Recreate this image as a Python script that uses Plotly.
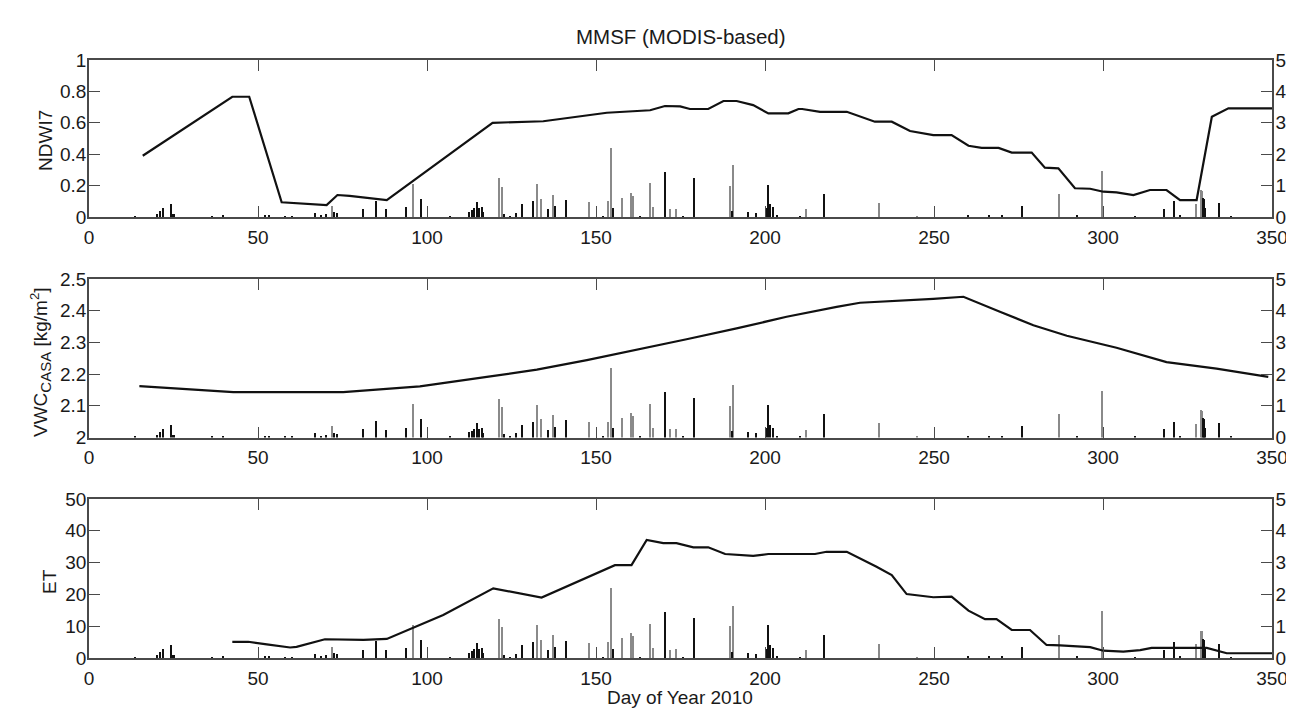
import plotly.graph_objects as go

# ---------------- data ----------------
day_ticks = [0, 50, 100, 150, 200, 250, 300, 350]

ndwi_days = [15.9, 42.4, 47.4, 57.0, 70.3, 73.5, 77.1, 88.1, 119.4, 134.4, 153.2, 161.0, 166.0,
             170.4, 174.9, 177.8, 183.2, 187.7, 191.6, 196.5, 201.0, 206.9, 209.9, 211.0, 216.3,
             224.2, 228.1, 232.5, 237.5, 242.9, 249.8, 255.2, 260.2, 264.1, 269.1, 273.0, 278.9,
             282.8, 286.8, 291.7, 296.2, 300.1, 304.0, 309.0, 313.9, 318.8, 322.8, 327.7, 332.2,
             337.1, 350.0]
ndwi_vals = [0.39, 0.766, 0.766, 0.094, 0.076, 0.14, 0.135, 0.108, 0.60, 0.61, 0.664, 0.671, 0.68,
             0.707, 0.705, 0.688, 0.688, 0.739, 0.739, 0.713, 0.66, 0.66, 0.688, 0.688, 0.67,
             0.67, 0.64, 0.607, 0.607, 0.548, 0.522, 0.522, 0.454, 0.44, 0.44, 0.41, 0.41,
             0.314, 0.31, 0.183, 0.18, 0.161, 0.157, 0.14, 0.172, 0.172, 0.108, 0.108, 0.639,
             0.692, 0.692]

vwc_days = [14.9, 42.7, 75.2, 97.9, 117.7, 132.5, 147.3, 162.0, 176.8, 191.6, 206.4, 221.2,
            228.1, 249.8, 258.7, 269.5, 279.4, 289.3, 304.0, 318.8, 333.6, 348.9]
vwc_vals = [2.162, 2.143, 2.143, 2.161, 2.191, 2.214, 2.244, 2.278, 2.31, 2.344, 2.381, 2.412,
            2.425, 2.437, 2.444, 2.397, 2.354, 2.321, 2.283, 2.238, 2.217, 2.191]

et_days = [42.4, 47.1, 52.6, 59.5, 61.4, 69.8, 81.2, 88.1, 104.8, 119.6, 133.9, 155.6, 160.5,
           165.0, 169.9, 173.8, 178.8, 183.2, 188.2, 196.5, 201.0, 214.8, 218.2, 224.2, 233.0,
           237.5, 241.9, 249.8, 255.2, 260.2, 265.1, 268.5, 273.0, 278.4, 283.3, 287.3, 296.2,
           300.1, 306.0, 311.0, 314.4, 330.7, 336.6, 350.0]
et_vals = [5.1, 5.1, 4.3, 3.3, 3.5, 5.9, 5.7, 6.0, 13.5, 21.9, 19.0, 29.2, 29.2,
           37.1, 36.1, 36.1, 34.8, 34.8, 32.7, 32.1, 32.7, 32.7, 33.4, 33.4, 28.7,
           26.1, 20.1, 19.1, 19.3, 14.9, 12.2, 12.2, 8.8, 8.8, 4.1, 4.0, 3.4,
           2.3, 2.0, 2.5, 3.2, 3.2, 1.5, 1.5]

# precipitation (right axis, 0-50), two overlaid records
rain_a_days = [71.8, 95.9, 121.3, 122.3, 132.5, 133.7, 137.4, 148.0, 153.6, 154.4, 157.6, 160.4,
               160.9, 166.0, 167.0, 171.9, 173.6, 189.8, 190.5, 212.3, 233.7, 245.0, 287.0,
               299.8, 327.5, 328.9, 329.3]
rain_a_vals = [3.6, 10.5, 12.3, 9.7, 10.4, 5.8, 7.1, 4.8, 5.0, 22.0, 6.2, 7.8,
               6.8, 10.7, 3.1, 2.6, 2.7, 10.0, 16.5, 2.4, 4.5, 0.3, 7.3,
               14.7, 4.3, 8.6, 8.4]

rain_b_days = [13.6, 20.0, 21.0, 21.8, 24.4, 25.0, 36.5, 39.7, 52.0, 53.3, 58.0, 60.0, 67.0, 68.5,
               70.0, 72.5, 73.3, 81.2, 84.9, 87.8, 93.7, 98.1, 106.8, 112.4, 113.2, 113.9, 114.9,
               115.5, 116.2, 116.7, 122.8, 124.5, 126.2, 128.0, 131.3, 135.8, 137.8, 141.1, 152.0,
               155.1, 163.0, 170.4, 175.6, 179.1, 190.2, 194.9, 197.2, 200.2, 201.0, 201.6, 202.3,
               203.5, 210.3, 217.5, 260.0, 266.3, 270.2, 275.9, 292.4, 309.5, 318.0, 321.0, 322.7,
               329.5, 329.9, 330.2, 334.4, 338.0]
rain_b_vals = [0.2, 0.8, 1.8, 2.8, 4.0, 0.8, 0.3, 0.4, 0.5, 0.6, 0.2, 0.2, 1.3, 0.6,
               0.8, 1.5, 1.2, 2.6, 5.2, 2.4, 3.1, 5.8, 0.2, 1.6, 2.2, 2.8, 4.7,
               2.8, 3.1, 1.5, 1.0, 0.3, 1.4, 4.0, 5.0, 2.4, 3.4, 5.5, 0.3,
               2.9, 0.2, 14.4, 0.3, 12.5, 1.9, 1.6, 1.4, 2.9, 10.3, 4.0, 3.1,
               0.5, 0.3, 7.3, 0.5, 0.4, 0.4, 3.6, 0.5, 0.3, 2.6, 5.0, 0.5,
               6.0, 5.7, 3.0, 4.5, 0.3]

panels = [
    dict(days=ndwi_days, vals=ndwi_vals, rng=[0, 1], dtick=0.2, label="NDWI7",
         ticktext=["0", "0.2", "0.4", "0.6", "0.8", "1"]),
    dict(days=vwc_days, vals=vwc_vals, rng=[2, 2.5], dtick=0.1,
         label="VWC<sub><span style=\"font-size:15px\">CASA</span></sub> [kg/m<sup>2</sup>]",
         ticktext=["2", "2.1", "2.2", "2.3", "2.4", "2.5"]),
    dict(days=et_days, vals=et_vals, rng=[0, 50], dtick=10, label="ET",
         ticktext=["0", "10", "20", "30", "40", "50"]),
]
rain_ticks = [0, 10, 20, 30, 40, 50]

# ---------------- layout geometry ----------------
# The page body has an 8px margin, so the figure is drawn 8px right/down
# from the window corner; targets below are window pixels.
OFF = 8
PAGE_W, PAGE_H = 1294, 709
PLOT_L, PLOT_R = 89, 1272          # window x of day 0 and day 350
W, H = PAGE_W - OFF, PAGE_H - OFF
L = PLOT_L - OFF
R = W - (PLOT_R - OFF)
panel_px = [(60, 217), (279, 437.5), (499, 658)]  # window top, bottom
ylab_px = [(45, 141), (40, 362), (49, 581)]
FONT = "Liberation Sans, Arial, Helvetica, sans-serif"
AX = "#4a4a4a"
TXT = "#1a1a1a"
TICKSZ = 19

def px_x(x):
    return (x - OFF - L) / (W - L - R)

def px_y(y):
    return 1 - (y - OFF) / H

fig = go.Figure()
layout = dict(
    width=W, height=H,
    margin=dict(l=L, r=R, t=0, b=0, autoexpand=False),
    paper_bgcolor="white", plot_bgcolor="white",
    showlegend=False, barmode="overlay", bargap=0,
    font=dict(family=FONT, size=18, color=TXT),
)
annotations = []

for i, p in enumerate(panels):
    n = i + 1
    xa = "x" if n == 1 else f"x{n}"
    bar_ax = n            # right axis (base)
    line_ax = n + 3       # left axis (overlaying)
    ybar = "y" if bar_ax == 1 else f"y{bar_ax}"
    yline = f"y{line_ax}"
    top, bot = panel_px[i]
    dom = [px_y(bot), px_y(top)]

    fig.add_trace(go.Bar(x=rain_a_days, y=rain_a_vals, width=0.35, xaxis=xa, yaxis=ybar,
                         marker=dict(color="#8a8a8a", line=dict(width=0)), hoverinfo="x+y"))
    fig.add_trace(go.Bar(x=rain_b_days, y=rain_b_vals, width=0.6, xaxis=xa, yaxis=ybar,
                         marker=dict(color="#111111", line=dict(width=0)), hoverinfo="x+y"))
    fig.add_trace(go.Scatter(x=p["days"], y=p["vals"], mode="lines", xaxis=xa, yaxis=yline,
                             line=dict(color="#111111", width=2.2)))

    xkey = "xaxis" if n == 1 else f"xaxis{n}"
    layout[xkey] = dict(
        domain=[0, 1], anchor=ybar, range=[0, 350], tickmode="array", tickvals=day_ticks,
        ticktext=[str(t) for t in day_ticks], ticks="inside", ticklen=11, tickwidth=1.3,
        tickcolor=AX, showline=True, linecolor=AX, linewidth=1.5, mirror="ticks",
        showgrid=False, zeroline=False, tickfont=dict(size=TICKSZ, color=TXT), fixedrange=True,
        ticklabelstandoff=2,
    )
    ybkey = "yaxis" if bar_ax == 1 else f"yaxis{bar_ax}"
    layout[ybkey] = dict(
        domain=dom, anchor=xa, side="right", range=[0, 50], tickmode="array",
        tickvals=rain_ticks, ticktext=[str(t) for t in rain_ticks], ticks="inside",
        ticklen=11, tickwidth=1.3, tickcolor=AX, showline=True, linecolor=AX, linewidth=1.5,
        showgrid=False, zeroline=False, tickfont=dict(size=TICKSZ, color=TXT), fixedrange=True,
        ticklabelstandoff=-2,
    )
    tv = [p["rng"][0] + k * p["dtick"] for k in range(6)]
    layout[f"yaxis{line_ax}"] = dict(
        domain=dom, anchor=xa, overlaying=ybar, side="left", range=p["rng"],
        tickmode="array", tickvals=tv, ticktext=p["ticktext"], ticks="inside", ticklen=11,
        tickwidth=1.3, tickcolor=AX, showline=True, linecolor=AX, linewidth=1.5,
        showgrid=False, zeroline=False, tickfont=dict(size=TICKSZ, color=TXT), fixedrange=True,
        ticklabelstandoff=-3,
    )
    lx, ly = ylab_px[i]
    annotations.append(dict(text=p["label"], xref="paper", yref="paper", x=px_x(lx),
                            y=px_y(ly), textangle=-90, showarrow=False,
                            xanchor="center", yanchor="middle",
                            font=dict(size=19, color=TXT, family=FONT)))

annotations.append(dict(text="MMSF (MODIS-based)", xref="paper", yref="paper",
                        x=px_x(681), y=px_y(36), showarrow=False, xanchor="center",
                        yanchor="middle", font=dict(size=20.5, color=TXT, family=FONT)))
annotations.append(dict(text="Day of Year 2010", xref="paper", yref="paper",
                        x=px_x(680), y=px_y(697), showarrow=False, xanchor="center",
                        yanchor="middle", font=dict(size=19, color=TXT, family=FONT)))
layout["annotations"] = annotations

fig.update_layout(**layout)
fig.write_html("out.html")
